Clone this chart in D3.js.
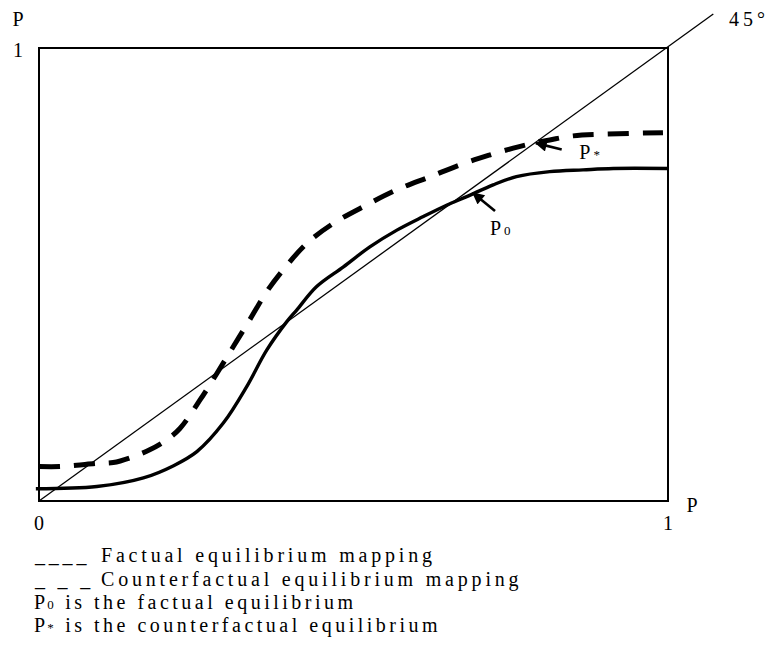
<!DOCTYPE html>
<html>
<head>
<meta charset="utf-8">
<script src="https://cdn.jsdelivr.net/npm/d3@7/dist/d3.min.js"></script>
<style>
  html, body { margin: 0; padding: 0; background: #fff; }
  svg { display: block; }
  text { font-family: "Liberation Serif", "Times New Roman", serif; fill: #000; }
</style>
</head>
<body>
<svg id="chart" width="771" height="652"></svg>
<script>
// ---- data ----
const factualX = [-0.005, 0.092, 0.166, 0.214, 0.251, 0.293, 0.330, 0.362, 0.394, 0.410, 0.441, 0.484, 0.526, 0.569, 0.611, 0.648, 0.680, 0.722, 0.759, 0.812, 0.865, 0.913, 1.0];
const factualY = [0.027, 0.032, 0.051, 0.078, 0.109, 0.172, 0.252, 0.333, 0.396, 0.422, 0.473, 0.517, 0.561, 0.598, 0.628, 0.653, 0.672, 0.698, 0.716, 0.727, 0.731, 0.734, 0.734];

const counterX = [0, 0.033, 0.060, 0.092, 0.118, 0.150, 0.176, 0.203, 0.224, 0.256, 0.283, 0.309, 0.335, 0.362, 0.388, 0.426, 0.468, 0.516, 0.569, 0.622, 0.675, 0.717, 0.754, 0.786, 0.812, 0.849, 0.903, 0.992];
const counterY = [0.076, 0.076, 0.079, 0.083, 0.085, 0.098, 0.113, 0.135, 0.160, 0.223, 0.282, 0.341, 0.400, 0.462, 0.510, 0.569, 0.613, 0.650, 0.687, 0.716, 0.745, 0.764, 0.779, 0.790, 0.797, 0.806, 0.810, 0.813];

const diagonalX = [0, 1.072];
const diagonalY = [0, 1.075];

const xTickValues = [0, 1];
const xTickLabels = ["0", "1"];
const yTickValues = [1];
const yTickLabels = ["1"];
const axisTitle = "P";
const angleLabel = "45°";

// equilibrium annotations: arrow tail -> tip, and label anchor
const eqNames = ["P*", "P0"];
const eqSubs = ["*", "0"];
const eqArrowTail = [[0.831, 0.776], [0.725, 0.640]];
const eqArrowTip = [[0.790, 0.790], [0.690, 0.680]];
const eqLabelPos = [[0.859, 0.756], [0.717, 0.587]];

const legendMarkers = ["____", "_ _ _", null, null];
const legendSymbols = [null, null, "0", "*"];
const legendTexts = ["Factual equilibrium mapping", "Counterfactual equilibrium mapping", "is the factual equilibrium", "is the counterfactual equilibrium"];

// ---- layout ----
const svg = d3.select("#chart");
const x = d3.scaleLinear().domain([0, 1]).range([39, 668]);
const y = d3.scaleLinear().domain([0, 1]).range([501, 48]);

// frame (box)
svg.append("rect")
  .attr("x", x(0)).attr("y", y(1))
  .attr("width", x(1) - x(0)).attr("height", y(0) - y(1))
  .attr("fill", "none").attr("stroke", "#000").attr("stroke-width", 2);

// 45 degree line
svg.append("line")
  .attr("x1", x(diagonalX[0])).attr("y1", y(diagonalY[0]))
  .attr("x2", x(diagonalX[1])).attr("y2", y(diagonalY[1]))
  .attr("stroke", "#000").attr("stroke-width", 1.3);

const line = d3.line().x(d => x(d[0])).y(d => y(d[1])).curve(d3.curveCatmullRom.alpha(0.5));

svg.append("path")
  .datum(factualX.map((v, i) => [v, factualY[i]]))
  .attr("d", line)
  .attr("fill", "none").attr("stroke", "#000").attr("stroke-width", 3.4)
  .attr("stroke-linejoin", "round");

svg.append("path")
  .datum(counterX.map((v, i) => [v, counterY[i]]))
  .attr("d", line)
  .attr("fill", "none").attr("stroke", "#000").attr("stroke-width", 5)
  .attr("stroke-dasharray", "21,14");

// arrowheads
svg.append("defs").append("marker")
  .attr("id", "arrow").attr("viewBox", "0 0 10 10")
  .attr("refX", 9).attr("refY", 5)
  .attr("markerWidth", 5).attr("markerHeight", 4.6)
  .attr("markerUnits", "strokeWidth")
  .attr("orient", "auto")
  .append("path").attr("d", "M0,0 L10,5 L0,10 z").attr("fill", "#000");

eqNames.forEach((n, i) => {
  svg.append("line")
    .attr("x1", x(eqArrowTail[i][0])).attr("y1", y(eqArrowTail[i][1]))
    .attr("x2", x(eqArrowTip[i][0])).attr("y2", y(eqArrowTip[i][1]))
    .attr("stroke", "#000").attr("stroke-width", 2.6)
    .attr("marker-end", "url(#arrow)");
  const t = svg.append("text")
    .attr("x", x(eqLabelPos[i][0])).attr("y", y(eqLabelPos[i][1]))
    .attr("font-size", 20).attr("letter-spacing", 3);
  t.append("tspan").text("P");
  t.append("tspan").attr("font-size", 13).text(eqSubs[i]);
});

// tick labels
const fs = 20;
xTickValues.forEach((v, i) => {
  svg.append("text").attr("x", x(v)).attr("y", 530)
    .attr("font-size", fs).attr("text-anchor", "middle").text(xTickLabels[i]);
});
yTickValues.forEach((v, i) => {
  svg.append("text").attr("x", 18).attr("y", y(v) + 9)
    .attr("font-size", fs).attr("text-anchor", "middle").text(yTickLabels[i]);
});
// axis titles
svg.append("text").attr("x", 12.5).attr("y", 26).attr("font-size", fs).text(axisTitle);
svg.append("text").attr("x", 686.5).attr("y", 512).attr("font-size", fs).text(axisTitle);
// 45 degree label
svg.append("text").attr("x", 729).attr("y", 26).attr("font-size", fs)
  .attr("letter-spacing", 4).text(angleLabel);

// legend
const legendBase = [562, 586, 609, 632];
legendTexts.forEach((txt, i) => {
  if (legendMarkers[i]) {
    svg.append("text").attr("x", 35).attr("y", legendBase[i])
      .attr("font-size", fs).attr("letter-spacing", 3.8).text(legendMarkers[i]);
    svg.append("text").attr("x", 101).attr("y", legendBase[i])
      .attr("font-size", fs).attr("letter-spacing", 3.8).text(txt);
  } else {
    const t = svg.append("text").attr("x", 34).attr("y", legendBase[i])
      .attr("font-size", fs).attr("letter-spacing", 3.5);
    t.append("tspan").attr("letter-spacing", 2).text("P");
    t.append("tspan").attr("font-size", 13).attr("letter-spacing", 3).text(legendSymbols[i]);
    t.append("tspan").text(" " + txt);
  }
});
</script>
</body>
</html>
